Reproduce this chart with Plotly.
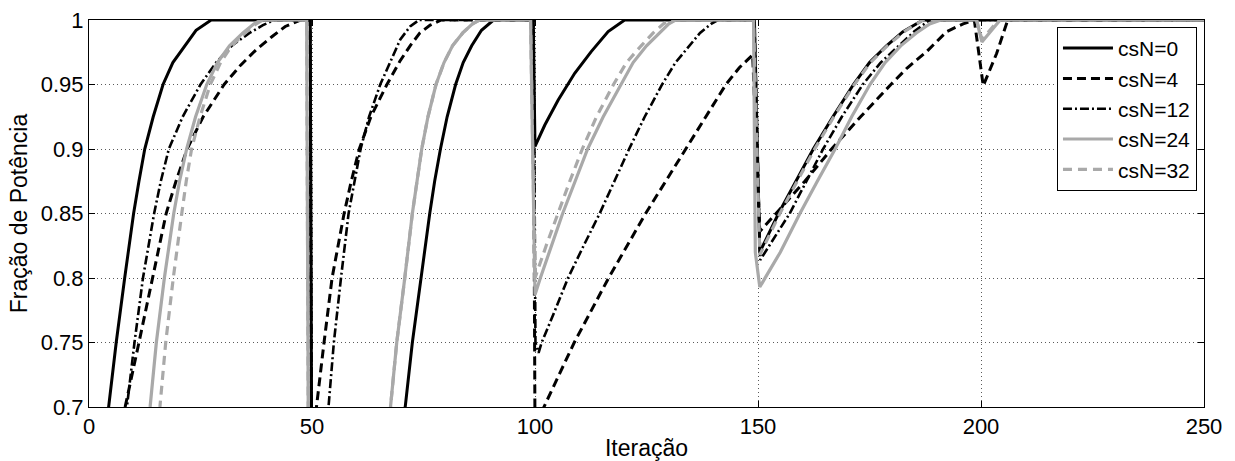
import plotly.graph_objects as go

# Iteration / power-fraction samples per series (csN = 0, 4, 12, 24, 32)
it_csN0 = [1, 4.3, 6.1, 8.0, 10.0, 11.2, 12.5, 14.4, 16.6, 18.8, 21.4, 24.0, 27.4, 49.6,
           50.0, 70.9, 72.5, 74.4, 76.4, 77.5, 78.8, 80.3, 82.2, 83.9, 85.8, 88.0, 90.7, 99.6,
           100.0, 102.2, 105.2, 108.9, 112.6, 116.4, 120.1, 149.2,
           150.4, 154.6, 158.5, 162.4, 166.8, 171.4, 175.0, 178.8, 182.5, 187.0, 250]
pf_csN0 = [0.60, 0.70, 0.75, 0.80, 0.85, 0.875, 0.90, 0.925, 0.95, 0.967, 0.98, 0.992, 1.0, 1.0,
           0.58, 0.70, 0.75, 0.80, 0.85, 0.875, 0.90, 0.925, 0.95, 0.967, 0.98, 0.992, 1.0, 1.0,
           0.902, 0.9186, 0.938, 0.9587, 0.9755, 0.991, 1.0, 1.0,
           0.820, 0.85, 0.875, 0.90, 0.925, 0.95, 0.967, 0.98, 0.991, 1.0, 1.0]

it_csN4 = [1, 8.1, 11.2, 14.2, 17.3, 19.5, 22.0, 25.6, 30.3, 34.0, 37.5, 41.0, 44.0, 47.4, 49.6,
           50.0, 51.0, 52.7, 54.5, 57.2, 58.8, 60.6, 63.2, 66.8, 69.7, 72.0, 74.2, 76.5, 79.0, 99.6,
           100.0, 102.0, 108.8, 116.5, 124.8, 133.8, 142.8, 145.8, 148.8,
           150.4, 154.1, 160.5, 166.5, 173.0, 179.8, 183.5, 187.8, 192.3, 196.0, 198.5,
           200.5, 203.5, 206.0, 250]
pf_csN4 = [0.55, 0.70, 0.75, 0.80, 0.85, 0.875, 0.90, 0.925, 0.95, 0.965, 0.977, 0.987, 0.995, 1.0, 1.0,
           0.55, 0.70, 0.75, 0.80, 0.85, 0.875, 0.90, 0.925, 0.95, 0.968, 0.98, 0.99, 0.996, 1.0, 1.0,
           0.68, 0.70, 0.75, 0.80, 0.85, 0.90, 0.95, 0.963, 0.973,
           0.836, 0.85, 0.875, 0.90, 0.925, 0.95, 0.963, 0.9755, 0.991, 0.997, 1.0,
           0.949, 0.974, 1.0, 1.0]

it_csN12 = [1, 8.5, 10.2, 12.1, 14.6, 16.1, 17.9, 21.0, 25.0, 28.5, 32.0, 36.0, 39.0, 41.5, 49.6,
            50.0, 53.7, 54.9, 56.5, 58.2, 60.9, 62.8, 65.3, 67.5, 69.8, 72.0, 74.0, 99.7,
            100.1, 100.8, 101.5, 104.5, 107.4, 110.9, 114.5, 117.8, 121.1, 124.6, 128.5,
            131.5, 134.5, 137.0, 139.5, 141.0, 149.2,
            150.5, 157.1, 160.8, 164.6, 168.8, 173.5, 177.5, 181.5, 185.0, 188.5, 250]
pf_csN12 = [0.55, 0.70, 0.75, 0.80, 0.85, 0.875, 0.90, 0.925, 0.95, 0.967, 0.98, 0.99, 0.996, 1.0, 1.0,
            0.45, 0.70, 0.75, 0.80, 0.85, 0.90, 0.925, 0.95, 0.967, 0.985, 0.995, 1.0, 1.0,
            0.75, 0.742, 0.75, 0.775, 0.80, 0.825, 0.85, 0.875, 0.90, 0.925, 0.95,
            0.967, 0.98, 0.99, 0.997, 1.0, 1.0,
            0.814, 0.85, 0.875, 0.90, 0.925, 0.95, 0.967, 0.98, 0.991, 1.0, 1.0]

it_csN24 = [1, 13.7, 15.1, 16.9, 19.0, 20.3, 21.9, 23.9, 26.4, 28.8, 31.5, 34.5, 37.0, 38.5, 48.8,
            49.5, 67.6, 69.0, 70.8, 72.5, 74.6, 76.0, 77.8, 79.6, 81.5, 83.8, 86.0, 87.5, 99.0,
            100.0, 101.2, 103.7, 106.2, 109.0, 111.8, 115.3, 119.2, 122.0, 125.0, 127.8, 130.0, 131.5, 149.0,
            149.4, 150.4, 155.0, 159.4, 163.3, 167.3, 171.0, 175.1, 178.5, 182.0, 185.5, 188.5, 191.0, 199.0,
            200.2, 204.3, 250]
pf_csN24 = [0.40, 0.70, 0.75, 0.80, 0.85, 0.875, 0.90, 0.925, 0.95, 0.967, 0.98, 0.99, 0.997, 1.0, 1.0,
            0.40, 0.70, 0.75, 0.80, 0.85, 0.90, 0.925, 0.95, 0.967, 0.98, 0.99, 0.997, 1.0, 1.0,
            0.787, 0.80, 0.825, 0.85, 0.875, 0.90, 0.925, 0.95, 0.967, 0.98, 0.99, 0.997, 1.0, 1.0,
            0.82, 0.793, 0.82, 0.85, 0.875, 0.90, 0.925, 0.95, 0.967, 0.98, 0.99, 0.997, 1.0, 1.0,
            0.983, 1.0, 1.0]

it_csN32 = [1, 15.9, 17.2, 18.9, 20.8, 21.8, 23.0, 24.9, 27.2, 29.5, 32.0, 35.0, 37.5, 39.0, 48.8,
            49.5, 67.6, 69.0, 70.8, 72.5, 74.6, 76.0, 77.8, 79.6, 81.5, 83.8, 86.0, 87.5, 99.0,
            100.0, 102.5, 105.1, 107.8, 110.6, 113.8, 117.6, 120.5, 123.8, 126.5, 128.8, 130.3, 149.0,
            150.4, 154.9, 158.8, 162.7, 167.0, 171.6, 175.2, 179.0, 182.8, 187.0, 199.0,
            200.2, 204.0, 250]
pf_csN32 = [0.40, 0.70, 0.75, 0.80, 0.85, 0.875, 0.90, 0.925, 0.95, 0.967, 0.98, 0.99, 0.997, 1.0, 1.0,
            0.40, 0.70, 0.75, 0.80, 0.85, 0.90, 0.925, 0.95, 0.967, 0.98, 0.99, 0.997, 1.0, 1.0,
            0.80, 0.825, 0.85, 0.875, 0.90, 0.925, 0.95, 0.967, 0.98, 0.99, 0.997, 1.0, 1.0,
            0.818, 0.85, 0.875, 0.90, 0.925, 0.95, 0.967, 0.98, 0.991, 1.0, 1.0,
            0.985, 1.0, 1.0]

x_ticks = [0, 50, 100, 150, 200, 250]
y_ticks = [0.7, 0.75, 0.8, 0.85, 0.9, 0.95, 1.0]
y_tick_text = ["0.7", "0.75", "0.8", "0.85", "0.9", "0.95", "1"]

FONT = "Liberation Sans, Arial, Helvetica, sans-serif"
GRAY = "#a9a9a9"

series = [
    ("csN=0", it_csN0, pf_csN0, "black", "solid", 3.0),
    ("csN=4", it_csN4, pf_csN4, "black", "9px,5px", 3.0),
    ("csN=12", it_csN12, pf_csN12, "black", "9px,3px,2px,3px", 2.6),
    ("csN=24", it_csN24, pf_csN24, GRAY, "solid", 3.2),
    ("csN=32", it_csN32, pf_csN32, GRAY, "9px,6px", 3.2),
]

fig = go.Figure()
for name, xs, ys, color, dash, width in series:
    fig.add_trace(go.Scatter(
        x=xs, y=ys, mode="lines", name=name,
        line=dict(color=color, dash=dash, width=width),
    ))

axis_common = dict(
    showline=True, linecolor="black", linewidth=1, mirror="ticks",
    ticks="inside", ticklen=6, tickcolor="black", tickwidth=1,
    showgrid=True, gridcolor="#5a5a5a", griddash="1px,3px", gridwidth=1,
    zeroline=False, automargin=False,
    tickfont=dict(family=FONT, size=22, color="black"),
)

fig.update_xaxes(
    range=[0, 250], tickvals=x_ticks,
    title=dict(text="Iteração", font=dict(family=FONT, size=23, color="black"), standoff=8),
    **axis_common,
)
fig.update_yaxes(
    range=[0.7, 1.0], tickvals=y_ticks, ticktext=y_tick_text,
    title=dict(text="Fração de Potência", font=dict(family=FONT, size=23, color="black"), standoff=6),
    **axis_common,
)

fig.update_layout(
    width=1235, height=461,
    margin=dict(l=89, r=31, t=20, b=54),
    paper_bgcolor="white", plot_bgcolor="white",
    font=dict(family=FONT, color="black"),
    hovermode=False,
    legend=dict(
        x=0.9937, y=0.982, xanchor="right", yanchor="top",
        bgcolor="white", bordercolor="black", borderwidth=1,
        font=dict(family=FONT, size=21, color="black"),
        tracegroupgap=0, itemwidth=50,
    ),
)

fig.write_html("out.html")
